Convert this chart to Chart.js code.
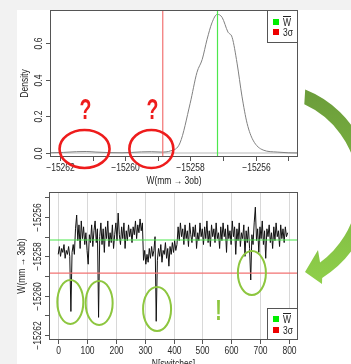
<!DOCTYPE html>
<html>
<head>
<meta charset="utf-8">
<script src="https://cdn.jsdelivr.net/npm/chart.js@4.4.1/dist/chart.umd.min.js"></script>
<style>
  html, body { margin: 0; padding: 0; background: #f2f2f2; }
  #page { position: relative; width: 351px; height: 364px; overflow: hidden; }
  #sheet { position: absolute; left: 17px; top: 10px; right: 0; bottom: 0; background: #fff; }
  canvas { position: absolute; left: 0; top: 0; }
</style>
</head>
<body>
<div id="page">
  <div id="sheet"></div>
  <canvas id="densityChart" width="351" height="364"></canvas>
  <canvas id="traceChart" width="351" height="364"></canvas>
</div>
<script>
// density of W (top panel)
const densityW = [-15262.3, -15261.9, -15261.5, -15261.2, -15260.9, -15260.5, -15260.1, -15259.8, -15259.5, -15259.2,
  -15258.9, -15258.6, -15258.32, -15258.01, -15257.8, -15257.64, -15257.49, -15257.34, -15257.18, -15257.03,
  -15256.85, -15256.72, -15256.57, -15256.42, -15256.26, -15256.08, -15255.77, -15255.34, -15255.0, -15254.7];
const densityY = [0.001, 0.003, 0.007, 0.008, 0.005, 0.002, 0.001, 0.003, 0.006, 0.007,
  0.005, 0.012, 0.055, 0.27, 0.44, 0.51, 0.62, 0.71, 0.756, 0.74,
  0.66, 0.63, 0.49, 0.31, 0.16, 0.07, 0.016, 0.005, 0.001, 0.0];

// W after every 4th switch (bottom panel)
const switchStep = 4;
const traceW = [
  -15257.9, -15257.5, -15258.0, -15257.6, -15257.8, -15257.4, -15258.1, -15257.7, -15257.9, -15257.5,
  -15258.0, -15260.8, -15257.8, -15257.4, -15257.9,
  -15256.6, -15255.9, -15257.2, -15256.4, -15257.6, -15256.2, -15257.1, -15256.5, -15257.4, -15256.8,
  -15257.7, -15258.4, -15256.9, -15257.3, -15256.4, -15257.5, -15256.7, -15256.2, -15257.3, -15256.6,
  -15261.1, -15257.0, -15256.3, -15257.4, -15256.6, -15257.8, -15256.5, -15257.1, -15256.2, -15257.5,
  -15256.8, -15257.3, -15256.4, -15257.6, -15256.9, -15256.3, -15257.2, -15255.8, -15256.9, -15257.4,
  -15256.5, -15257.1, -15256.3, -15257.6, -15256.7, -15257.2, -15256.4, -15257.0, -15256.6, -15257.3,
  -15256.5, -15256.9, -15256.2, -15257.1, -15256.4, -15256.8, -15256.1, -15256.7, -15256.3,
  -15258.2, -15257.7, -15258.4, -15257.9, -15258.3, -15257.6, -15258.1, -15257.5, -15258.0, -15257.7,
  -15257.0, -15261.3, -15258.2, -15257.6, -15258.0, -15257.4, -15258.3, -15257.7, -15257.9, -15257.3,
  -15258.1, -15257.6, -15258.5, -15257.5, -15257.9, -15257.3, -15257.8, -15257.2, -15257.7, -15257.4,
  -15256.5, -15257.2, -15256.3, -15257.0, -15256.6, -15257.4, -15256.4, -15257.1, -15256.7, -15257.5,
  -15256.3, -15256.9, -15257.3, -15256.5, -15257.0, -15256.4, -15257.6, -15256.8, -15257.2, -15256.3,
  -15257.0, -15256.6, -15257.4, -15256.5, -15257.1, -15256.2, -15257.3, -15256.7, -15257.5, -15256.4,
  -15257.0, -15256.6, -15257.3, -15256.3, -15257.1, -15256.8, -15257.6, -15256.5, -15257.2, -15256.3,
  -15257.0, -15256.6, -15257.8, -15256.4, -15257.1, -15256.7, -15257.4, -15256.2, -15257.0, -15256.5,
  -15257.9, -15256.6, -15257.2, -15256.3, -15257.5, -15256.8, -15257.1, -15256.4, -15258.0, -15256.7,
  -15257.3, -15256.5, -15257.6, -15259.2, -15256.9, -15257.4, -15256.3, -15255.5, -15257.2, -15256.6,
  -15257.8, -15256.5, -15257.1, -15256.2, -15257.4, -15256.7, -15258.1, -15256.6, -15257.0, -15256.4,
  -15257.3, -15256.8, -15257.6, -15256.5, -15257.2, -15256.3, -15257.0, -15256.7, -15257.5, -15256.4,
  -15257.1, -15256.6, -15257.3, -15256.5, -15257.0, -15256.8
];

const meanW = -15257.17;
const threeSigma = -15258.85;

// axis ticks
const densityTicksX = [-15262, -15261, -15260, -15259, -15258, -15257, -15256, -15255];
const densityLabelsX = [-15262, -15260, -15258, -15256];
const densityTicksY = [0, 0.2, 0.4, 0.6];
const switchTicks = [0, 100, 200, 300, 400, 500, 600, 700, 800];
const traceTicksY = [-15262, -15261, -15260, -15259, -15258, -15257, -15256, -15255];
const traceLabelsY = [-15262, -15260, -15258, -15256];
const legendLabels = ["W", "3\u03c3"];

const FONT = '"Liberation Sans", Arial, sans-serif';
const GREEN_LINE = "#4de84d";
const RED_LINE = "#f27272";
const MARK_GREEN = "#8dc63f";

function minus(v) {
  return v < 0 ? "\u2212" + Math.abs(v) : String(v);
}

function text(ctx, str, x, y, o = {}) {
  ctx.save();
  ctx.translate(x, y);
  if (o.rot) ctx.rotate(o.rot);
  ctx.scale(o.sx || 0.85, 1);
  ctx.font = (o.weight || "") + " " + (o.size || 10) + "px " + FONT;
  ctx.fillStyle = o.color || "#2a2a2a";
  ctx.textAlign = o.align || "center";
  ctx.textBaseline = o.baseline || "middle";
  ctx.fillText(str, 0, 0);
  ctx.restore();
}

function drawLegend(ctx, a, top, bottom, rowOffsets) {
  const left = a.right - 31;
  ctx.fillStyle = "#fff";
  ctx.fillRect(left, top, a.right - left, bottom - top);
  ctx.strokeStyle = "#555";
  ctx.lineWidth = 1;
  ctx.strokeRect(left + 0.5, top + 0.5, a.right - left - 1, bottom - top - 1);
  const colors = ["#00ee00", "#ee0000"];
  legendLabels.forEach((lab, i) => {
    const yy = top + rowOffsets[i];
    ctx.fillStyle = colors[i];
    ctx.fillRect(left + 6, yy - 3, 6, 6);
    text(ctx, lab, left + 16, yy + 1, { align: "left", color: "#222" });
    if (i === 0) {
      // overline for mean W
      ctx.strokeStyle = "#222";
      ctx.beginPath();
      ctx.moveTo(left + 16, yy - 5.5);
      ctx.lineTo(left + 24, yy - 5.5);
      ctx.stroke();
    }
  });
}

// R-like axes, box, reference lines and legend
function rStyle(o) {
  return {
    id: "rStyle",
    beforeDatasetsDraw(chart) {
      const { ctx, chartArea: a, scales: { x, y } } = chart;
      ctx.save();
      if (o.gridX) {
        ctx.strokeStyle = "#d8d8d8";
        ctx.lineWidth = 1;
        o.ticksX.forEach(v => {
          const px = Math.round(x.getPixelForValue(v)) + 0.5;
          ctx.beginPath();
          ctx.moveTo(px, a.top);
          ctx.lineTo(px, a.bottom);
          ctx.stroke();
        });
      }
      if (o.zeroLine) {
        const py = y.getPixelForValue(0);
        ctx.strokeStyle = "#d0d0d0";
        ctx.lineWidth = 1.5;
        ctx.beginPath();
        ctx.moveTo(a.left, py);
        ctx.lineTo(a.right, py);
        ctx.stroke();
      }
      ctx.restore();
    },
    afterDatasetsDraw(chart) {
      const { ctx, chartArea: a, scales: { x, y } } = chart;
      ctx.save();
      // reference lines
      [[meanW, GREEN_LINE], [threeSigma, RED_LINE]].forEach(([v, c]) => {
        ctx.strokeStyle = c;
        ctx.lineWidth = 1.2;
        ctx.beginPath();
        if (o.refAxis === "x") {
          const px = x.getPixelForValue(v);
          ctx.moveTo(px, a.top);
          ctx.lineTo(px, a.bottom);
        } else {
          const py = y.getPixelForValue(v);
          ctx.moveTo(a.left, py);
          ctx.lineTo(a.right, py);
        }
        ctx.stroke();
      });

      // box
      ctx.strokeStyle = "#555";
      ctx.lineWidth = 1;
      ctx.strokeRect(a.left + 0.5, a.top + 0.5, a.right - a.left - 1, a.bottom - a.top - 1);

      // x ticks
      o.ticksX.forEach(v => {
        const px = Math.round(x.getPixelForValue(v)) + 0.5;
        ctx.beginPath();
        ctx.moveTo(px, a.bottom);
        ctx.lineTo(px, a.bottom + 4);
        ctx.stroke();
        if (o.labelsX.includes(v)) text(ctx, o.fmtX(v), px, a.bottom + 6, { baseline: "top" });
      });
      // y ticks
      o.ticksY.forEach(v => {
        const py = Math.round(y.getPixelForValue(v)) + 0.5;
        ctx.beginPath();
        ctx.moveTo(a.left - 4, py);
        ctx.lineTo(a.left, py);
        ctx.stroke();
        if (o.labelsY.includes(v)) text(ctx, o.fmtY(v), a.left - 6, py, { rot: -Math.PI / 2, baseline: "bottom" });
      });
      // axis titles
      text(ctx, o.titleX, (a.left + a.right) / 2, a.bottom + 24, { color: "#222" });
      text(ctx, o.titleY, a.left - o.titleYGap, (a.top + a.bottom) / 2, { rot: -Math.PI / 2, color: "#222" });

      drawLegend(ctx, a, o.legendTop(a), o.legendBottom(a), o.legendRows);
      if (o.marks) o.marks(chart);
      ctx.restore();
    }
  };
}

// red question marks on the density tails
function densityMarks(chart) {
  const { ctx, scales: { x, y } } = chart;
  const rings = [{ w: -15261.25, rx: 25 }, { w: -15259.2, rx: 22 }];
  ctx.strokeStyle = "#ee1c1c";
  ctx.lineWidth = 2.6;
  rings.forEach(r => {
    ctx.beginPath();
    ctx.ellipse(x.getPixelForValue(r.w), y.getPixelForValue(0.022), r.rx, 19, 0, 0, Math.PI * 2);
    ctx.stroke();
    text(ctx, "?", x.getPixelForValue(r.w) + 1, y.getPixelForValue(0.228), {
      size: 30, weight: "bold", sx: 0.65, color: "#ee1c1c"
    });
  });
}

// green rings on the spikes and the curved arrow
function traceMarks(chart) {
  const { ctx, scales: { x, y } } = chart;
  const rings = [
    { n: 42, w: -15260.32, rx: 13 },
    { n: 142, w: -15260.37, rx: 13.5 },
    { n: 343, w: -15260.68, rx: 14 },
    { n: 672, w: -15258.85, rx: 14 }
  ];
  ctx.strokeStyle = MARK_GREEN;
  ctx.lineWidth = 2;
  rings.forEach(r => {
    ctx.beginPath();
    ctx.ellipse(x.getPixelForValue(r.n), y.getPixelForValue(r.w), r.rx, 22, 0, 0, Math.PI * 2);
    ctx.stroke();
  });
  text(ctx, "!", x.getPixelForValue(556), y.getPixelForValue(-15260.8), {
    size: 30, weight: "bold", sx: 0.65, color: MARK_GREEN
  });

  const rad = d => d * Math.PI / 180;
  const cx = 266, cy = 188, rIn = 92, rOut = 106;
  const g = ctx.createLinearGradient(0, 90, 0, 285);
  g.addColorStop(0, "#6b9c3a");
  g.addColorStop(1, "#8fd04a");
  ctx.fillStyle = g;
  ctx.beginPath();
  ctx.arc(cx, cy, rOut, rad(-68.3), rad(58));
  ctx.lineTo(322, 284);
  ctx.lineTo(305, 272);
  ctx.lineTo(318, 250);
  ctx.lineTo(cx + rIn * Math.cos(rad(54)), cy + rIn * Math.sin(rad(54)));
  ctx.arc(cx, cy, rIn, rad(54), rad(-65.4), true);
  ctx.closePath();
  ctx.fill();
}

const hiddenScale = (min, max) => ({ type: "linear", display: false, min: min, max: max });

new Chart(document.getElementById("densityChart"), {
  type: "line",
  data: {
    datasets: [{
      data: densityW.map((w, i) => ({ x: w, y: densityY[i] })),
      borderColor: "#808080",
      borderWidth: 1,
      pointRadius: 0,
      cubicInterpolationMode: "monotone",
      fill: false
    }]
  },
  options: {
    responsive: false,
    animation: false,
    layout: { padding: { left: 50, top: 10, right: 53, bottom: 207 } },
    scales: { x: hiddenScale(-15262.31, -15254.7), y: hiddenScale(-0.022, 0.78) },
    plugins: { legend: { display: false }, tooltip: { enabled: false } }
  },
  plugins: [rStyle({
    ticksX: densityTicksX, labelsX: densityLabelsX, fmtX: minus,
    ticksY: densityTicksY, labelsY: densityTicksY, fmtY: v => v.toFixed(1),
    titleX: "W(mm \u2192 3ob)", titleY: "Density", titleYGap: 25,
    refAxis: "x", zeroLine: true,
    legendTop: a => a.top, legendBottom: a => a.top + 33, legendRows: [12, 22],
    marks: densityMarks
  })]
});

new Chart(document.getElementById("traceChart"), {
  type: "line",
  data: {
    datasets: [{
      data: traceW.map((w, i) => ({ x: i * switchStep, y: w })),
      borderColor: "#111",
      borderWidth: 1,
      pointRadius: 0,
      fill: false
    }]
  },
  options: {
    responsive: false,
    animation: false,
    layout: { padding: { left: 49, top: 192, right: 53, bottom: 24 } },
    scales: { x: hiddenScale(-32, 832), y: hiddenScale(-15262.25, -15254.73) },
    plugins: { legend: { display: false }, tooltip: { enabled: false } }
  },
  plugins: [rStyle({
    ticksX: switchTicks, labelsX: switchTicks, fmtX: minus,
    ticksY: traceTicksY, labelsY: traceLabelsY, fmtY: minus,
    titleX: "N[switches]", titleY: "W(mm \u2192 3ob)", titleYGap: 27,
    refAxis: "y", gridX: true,
    legendTop: a => a.bottom - 32, legendBottom: a => a.bottom, legendRows: [11, 22],
    marks: traceMarks
  })]
});
</script>
</body>
</html>
